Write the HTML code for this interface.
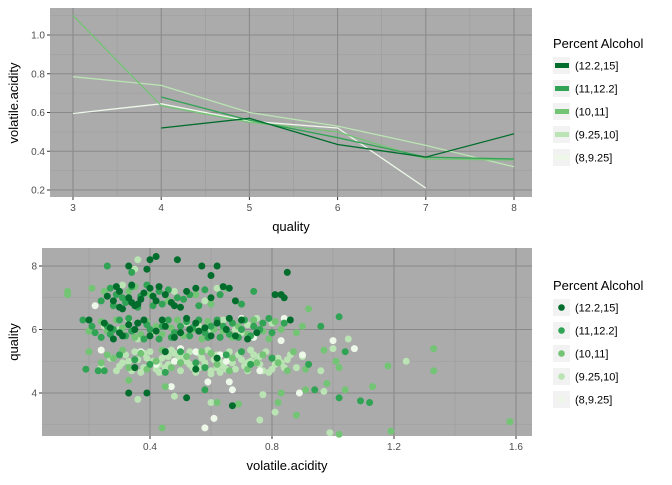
<!DOCTYPE html>
<html><head><meta charset="utf-8"><style>
body{margin:0;background:#fff;font-family:"Liberation Sans",sans-serif}
svg text{font-family:"Liberation Sans",sans-serif}
</style></head><body>
<svg id="c" width="672" height="480" xmlns="http://www.w3.org/2000/svg"></svg>
<script>
const groupLabels=["(12.2,15]","(11,12.2]","(10,11]","(9.25,10]","(8,9.25]"];
const groupColors=["#006d2c","#31a354","#74c476","#bae4b3","#edf8e9"];
const qualities=[3,4,5,6,7,8];
const line0=[null,0.52,0.57,0.435,0.37,0.49];
const line1=[null,0.68,0.56,0.47,0.37,0.36];
const line2=[1.10,0.635,0.55,0.50,0.36,0.355];
const line3=[0.785,0.74,0.60,0.53,0.43,0.32];
const line4=[0.595,0.645,0.555,0.52,0.21,null];
const topXTicks=[3,4,5,6,7,8];
const topYTicks=[0.2,0.4,0.6,0.8,1.0];
const botXTicks=[0.4,0.8,1.2,1.6];
const botYTicks=[4,6,8];
const pts0=[[0.3,7.2],[0.33,7.0],[0.36,6.8],[0.4,7.3],[0.28,6.9],[0.45,7.1],[0.5,6.7],[0.34,7.4],[0.42,6.9],[0.31,6.65],[0.38,7.15],[0.47,6.85],[0.55,7.3],[0.6,7.0],[0.66,7.3],[0.68,6.9],[0.35,6.75],[0.26,7.05],[0.43,7.35],[0.52,7.2],[0.3,6.7],[0.83,7.1],[0.84,7.0],[0.81,7.1],[0.33,8.0],[0.39,7.9],[0.42,8.3],[0.49,8.2],[0.57,8.0],[0.62,8.0],[0.6,7.7],[0.85,7.8],[0.4,8.2],[0.2,6.3],[0.25,6.2],[0.3,5.9],[0.35,6.0],[0.4,5.8],[0.45,6.1],[0.5,5.9],[0.55,6.2],[0.6,5.8],[0.65,6.0],[0.7,6.3],[0.75,5.9],[0.28,5.7],[0.38,6.3],[0.48,5.75],[0.58,6.05],[0.68,5.8],[0.86,6.3],[0.72,5.7],[0.52,6.35],[0.33,6.15],[0.42,5.95],[0.35,4.8],[0.55,4.75],[0.62,5.1],[0.45,5.3],[0.33,4.0],[0.52,3.85],[0.67,3.6],[0.39,4.0],[0.29,7.35],[0.37,6.95],[0.41,7.05],[0.48,6.75],[0.34,6.85],[0.31,5.8],[0.44,6.3],[0.56,5.95],[0.62,6.2],[0.36,6.2],[0.27,6.05],[0.53,6.0],[0.66,6.35],[0.64,7.35]];
const pts1=[[0.27,7.3],[0.32,6.85],[0.37,7.05],[0.41,6.75],[0.46,7.25],[0.51,6.95],[0.29,7.1],[0.34,7.35],[0.44,6.8],[0.49,7.0],[0.56,6.75],[0.63,7.1],[0.7,6.8],[0.74,7.2],[0.24,6.9],[0.39,7.4],[0.58,7.25],[0.26,8.0],[0.34,7.8],[0.18,6.3],[0.22,5.9],[0.26,6.1],[0.3,6.3],[0.32,5.8],[0.36,6.2],[0.4,6.0],[0.43,5.7],[0.46,6.3],[0.5,6.1],[0.53,5.8],[0.56,6.3],[0.6,6.1],[0.63,5.75],[0.67,6.2],[0.7,6.0],[0.73,5.8],[0.77,6.2],[0.8,5.9],[0.24,5.75],[0.28,6.0],[0.34,5.95],[0.38,5.7],[0.44,6.1],[0.48,5.9],[0.52,6.25],[0.58,5.9],[0.62,6.3],[0.66,5.85],[0.71,6.3],[0.76,6.0],[0.84,6.2],[1.02,6.4],[0.96,6.1],[0.19,4.75],[0.25,4.7],[0.3,5.2],[0.4,4.9],[0.5,5.3],[0.58,4.8],[0.65,5.2],[0.8,5.1],[0.92,4.9],[0.45,4.65],[0.73,4.9],[1.04,5.3],[0.23,4.7],[0.94,4.1],[1.02,3.85],[1.09,3.75],[1.12,3.7],[0.58,4.1],[0.31,7.0],[0.36,6.7],[0.43,7.2],[0.53,7.1],[0.28,6.75],[0.21,6.1],[0.27,5.85],[0.33,6.35],[0.39,6.15],[0.47,5.75],[0.54,6.05],[0.59,5.75],[0.64,6.1],[0.69,5.75],[0.74,6.1],[0.79,6.35],[0.35,5.05],[0.55,4.95],[0.7,5.3]];
const pts2=[[0.13,7.2],[0.13,7.1],[0.21,7.3],[0.33,7.2],[0.4,7.1],[0.55,7.1],[0.6,6.8],[0.65,7.3],[0.28,6.75],[0.2,5.95],[0.24,6.25],[0.31,6.05],[0.35,5.75],[0.39,6.25],[0.44,5.85],[0.49,6.3],[0.54,6.0],[0.59,6.25],[0.64,5.95],[0.69,6.1],[0.74,6.3],[0.79,5.7],[0.83,6.0],[0.88,5.9],[0.9,6.1],[0.92,6.65],[0.37,5.85],[0.47,6.05],[0.57,5.7],[0.29,6.3],[0.72,5.85],[0.2,5.3],[0.24,4.95],[0.28,5.1],[0.33,4.8],[0.37,5.25],[0.42,5.0],[0.47,4.8],[0.52,5.15],[0.57,5.3],[0.62,4.9],[0.67,5.1],[0.72,4.75],[0.77,5.2],[0.82,4.95],[0.87,5.3],[0.91,4.75],[0.97,5.35],[1.01,5.0],[0.31,5.35],[0.44,5.35],[0.66,4.7],[0.85,4.7],[0.33,4.4],[0.45,4.2],[0.62,3.7],[0.69,3.65],[0.83,4.0],[0.88,3.3],[0.91,4.1],[0.98,4.3],[1.02,4.8],[1.04,4.1],[1.13,4.2],[1.18,4.85],[1.33,5.4],[1.33,4.7],[0.82,3.7],[1.58,3.1],[1.02,2.7],[1.19,2.8],[0.44,2.9],[0.26,5.95],[0.42,6.1],[0.51,5.8],[0.61,6.0],[0.67,5.75],[0.77,5.95],[0.81,6.25],[0.26,5.2],[0.39,4.75],[0.5,4.95],[0.6,5.25],[0.75,4.95],[0.35,7.35],[0.46,6.9],[0.25,7.2]];
const pts3=[[0.3,4.85],[0.32,5.2],[0.34,4.7],[0.36,5.05],[0.38,4.8],[0.4,5.3],[0.42,4.75],[0.44,5.1],[0.46,4.9],[0.48,5.25],[0.5,4.7],[0.52,5.0],[0.54,4.8],[0.56,5.25],[0.58,4.95],[0.6,4.7],[0.62,5.2],[0.64,4.85],[0.66,5.3],[0.68,4.75],[0.7,5.05],[0.72,4.7],[0.74,5.2],[0.76,4.9],[0.78,5.3],[0.8,4.75],[0.82,5.1],[0.84,4.8],[0.86,5.2],[0.31,4.95],[0.35,5.3],[0.39,5.1],[0.43,4.65],[0.47,5.35],[0.51,5.15],[0.55,4.65],[0.59,5.35],[0.63,5.0],[0.67,4.95],[0.71,4.85],[0.75,5.0],[0.79,4.65],[0.83,4.95],[0.53,4.9],[0.57,5.1],[0.61,5.05],[0.65,4.75],[0.69,5.2],[0.73,5.35],[0.77,4.7],[0.45,4.8],[0.41,5.0],[0.37,4.65],[0.49,5.05],[0.27,5.1],[0.24,4.8],[0.25,6.1],[0.33,6.3],[0.41,5.9],[0.52,6.2],[0.6,6.0],[0.64,6.3],[0.7,5.9],[0.75,6.35],[0.8,6.2],[0.36,5.7],[0.45,6.25],[0.35,7.9],[0.36,8.2],[0.31,7.4],[0.48,7.2],[0.58,6.9],[0.62,7.3],[0.36,3.8],[0.48,3.9],[0.6,3.7],[0.76,3.15],[0.99,2.75],[0.77,3.95],[0.97,4.05],[1.05,5.7],[1.24,5.0],[0.81,3.4],[1.0,5.4],[0.96,4.7],[0.6,4.6],[0.33,5.0],[0.43,4.9],[0.53,5.3],[0.63,4.65],[0.73,5.0],[0.81,4.9],[0.85,5.05],[0.88,4.8],[0.9,5.15],[0.29,4.7],[0.46,5.15],[0.56,4.8],[0.66,5.1],[0.76,5.15],[0.38,5.25],[0.5,5.2],[0.62,4.8],[0.72,4.95],[0.42,6.05],[0.56,6.1],[0.72,6.15],[0.3,6.0],[0.68,6.0]];
const pts4=[[0.22,6.75],[0.24,5.35],[0.37,5.3],[0.48,5.0],[0.5,5.4],[0.59,4.35],[0.58,2.9],[0.61,3.2],[0.66,4.35],[0.67,4.1],[0.74,5.75],[0.76,4.7],[0.83,5.65],[0.84,6.35],[0.9,5.2],[1.0,5.65],[1.07,5.4],[0.89,4.0],[0.65,5.0],[0.47,4.2],[0.7,6.35],[0.55,5.3],[0.42,4.9],[0.63,5.2]];

const NS="http://www.w3.org/2000/svg",svg=document.getElementById('c');
function mk(t,a,p){const e=document.createElementNS(NS,t);for(const k in a)e.setAttribute(k,a[k]);(p||svg).appendChild(e);return e;}
const tx=v=>73+(v-3)*88.2, ty=v=>190-(v-0.2)*193.75;
const bx=v=>150+(v-0.4)*305, by=v=>393-(v-4)*31.75;
function panel(name,x0,y0,x1,y1){const g=mk('g',{});
 mk('rect',{x:x0,y:y0,width:x1-x0,height:y1-y0,fill:'#ababab'},g);return g;}
function grid(g,x0,y0,x1,y1,xs,ys,maj){for(const x of xs)mk('line',{x1:x,x2:x,y1:y0,y2:y1,stroke:maj?'#8a8a8a':'#9d9d9d','stroke-width':maj?1.1:0.6},g);
 for(const y of ys)mk('line',{x1:x0,x2:x1,y1:y,y2:y,stroke:maj?'#8a8a8a':'#9d9d9d','stroke-width':maj?1.1:0.6},g);}
function txt(s,x,y,o){const t=mk('text',Object.assign({x:x,y:y,'font-size':11,fill:'#4d4d4d','text-anchor':'middle'},o||{}));t.textContent=s;return t;}

const TX0=50,TY0=8,TX1=532,TY1=197;
const gt=panel('line-chart-panel',TX0,TY0,TX1,TY1);
grid(gt,TX0,TY0,TX1,TY1,[3.5,4.5,5.5,6.5,7.5].map(tx),[0.3,0.5,0.7,0.9,1.1].map(ty),false);
grid(gt,TX0,TY0,TX1,TY1,topXTicks.map(tx),topYTicks.map(ty),true);
const lines=[line0,line1,line2,line3,line4];
[4,3,2,1,0].forEach(i=>{let d='';lines[i].forEach((v,j)=>{if(v==null)return;d+=(d?'L':'M')+tx(qualities[j]).toFixed(1)+','+ty(v).toFixed(1);});
 const p=mk('path',{d:d,fill:'none',stroke:groupColors[i],'stroke-width':1.3});
 
 });
topXTicks.forEach(v=>{mk('line',{x1:tx(v),x2:tx(v),y1:TY1,y2:TY1+3,stroke:'#333'});const t=txt(v,tx(v),TY1+14,{'font-size':10});});
topYTicks.forEach(v=>{mk('line',{x1:TX0-3,x2:TX0,y1:ty(v),y2:ty(v),stroke:'#333'});const t=txt(v.toFixed(1),TX0-5,ty(v)+3.5,{'text-anchor':'end','font-size':10});});
let a=txt('quality',(TX0+TX1)/2,231,{'font-size':13,fill:'#000'});
a=txt('volatile.acidity',0,0,{'font-size':13,fill:'#000',transform:'translate(18,103) rotate(-90)'});

const BX0=42,BY0=248,BX1=532,BY1=436;
const gb=panel('scatter-panel',BX0,BY0,BX1,BY1);
grid(gb,BX0,BY0,BX1,BY1,[0.2,0.6,1.0,1.4].map(bx),[3,5,7].map(by),false);
grid(gb,BX0,BY0,BX1,BY1,botXTicks.map(bx),botYTicks.map(by),true);
const allPts=[pts0,pts1,pts2,pts3,pts4];
[3,4,2,1,0].forEach(i=>{allPts[i].forEach(p=>{const c=mk('circle',{cx:bx(p[0]).toFixed(1),cy:by(p[1]).toFixed(1),r:3.5,fill:groupColors[i]});
 
 });});
botXTicks.forEach(v=>{mk('line',{x1:bx(v),x2:bx(v),y1:BY1,y2:BY1+3,stroke:'#333'});const t=txt(v.toFixed(1),bx(v),BY1+14,{'font-size':10});});
botYTicks.forEach(v=>{mk('line',{x1:BX0-3,x2:BX0,y1:by(v),y2:by(v),stroke:'#333'});const t=txt(v,BX0-5,by(v)+3.5,{'text-anchor':'end','font-size':10});});
a=txt('volatile.acidity',(BX0+BX1)/2,470,{'font-size':13,fill:'#000'});
a=txt('quality',0,0,{'font-size':13,fill:'#000',transform:'translate(18,342) rotate(-90)'});

function legend(y0,kind){const g=mk('g',{});
 const t=txt('Percent Alcohol',553,y0,{'font-size':13,fill:'#000','text-anchor':'start'});g.appendChild(t);
 groupLabels.forEach((l,i)=>{const e=mk('g',{},g);
  const ky=y0+9+i*23;mk('rect',{x:553,y:ky,width:17,height:17,fill:'#f2f2f2'},e);
  if(kind==='line')mk('rect',{x:555,y:ky+6,width:14,height:5,fill:groupColors[i]},e);
  else mk('circle',{cx:561.5,cy:ky+8.5,r:3.3,fill:groupColors[i]},e);
  const tt=txt(l,575,ky+12.5,{'font-size':11,fill:'#000','text-anchor':'start'});e.appendChild(tt);});}
legend(48,'line');legend(290,'point');
</script>
</body></html>
